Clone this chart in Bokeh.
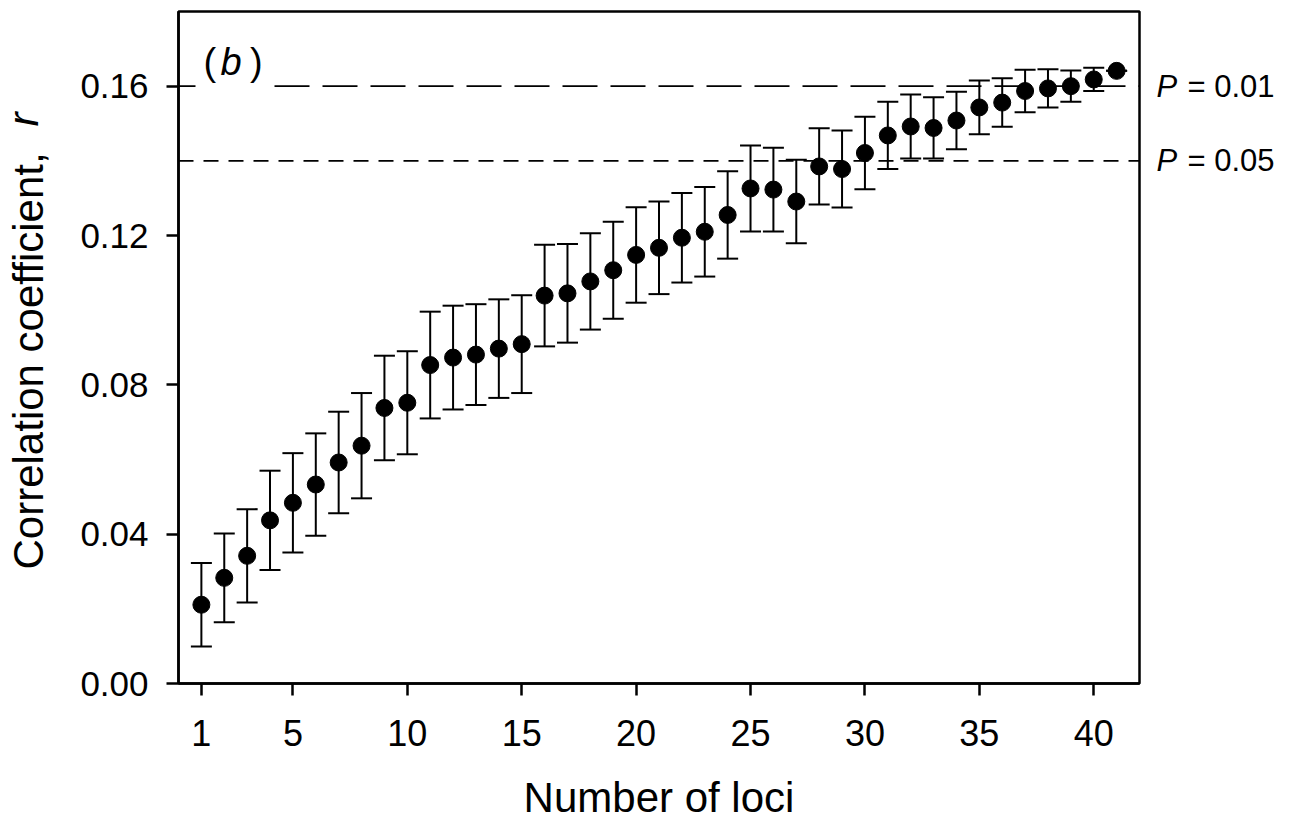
from bokeh.plotting import figure
from bokeh.models import (ColumnDataSource, Whisker, TeeHead, Span, Label, FixedTicker,
                          PrintfTickFormatter, LinearAxis, Title)
from bokeh.embed import file_html
from bokeh.resources import INLINE

# ---- data ----
n_loci = list(range(1, 42))
r_mean = [0.0211, 0.0283, 0.0342, 0.0437, 0.0484, 0.0533, 0.0592, 0.0637, 0.0738, 0.0752,
          0.0853, 0.0873, 0.0881, 0.0897, 0.0909, 0.1039, 0.1045, 0.1077, 0.1107, 0.1148,
          0.1167, 0.1194, 0.1210, 0.1255, 0.1326, 0.1323, 0.1291, 0.1385, 0.1378, 0.1421,
          0.1468, 0.1492, 0.1488, 0.1508, 0.1543, 0.1556, 0.1587, 0.1594, 0.1600, 0.1618,
          0.1641]
r_err = [0.0112, 0.0119, 0.0125, 0.0133, 0.0133, 0.0137, 0.0136, 0.0141, 0.0140, 0.0138,
         0.0143, 0.0139, 0.0135, 0.0132, 0.0131, 0.0136, 0.0132, 0.0129, 0.0130, 0.0128,
         0.0124, 0.0120, 0.0120, 0.0117, 0.0115, 0.0112, 0.0112, 0.0102, 0.0103, 0.0097,
         0.0090, 0.0086, 0.0082, 0.0077, 0.0072, 0.0065, 0.0057, 0.0051, 0.0042, 0.0031,
         0.0000]
x_ticks = [1, 5, 10, 15, 20, 25, 30, 35, 40]
y_ticks = [0.0, 0.04, 0.08, 0.12, 0.16]
sig_levels = [0.16, 0.14]
sig_names = ["0.01", "0.05"]

FONT = "Liberation Sans"

src = ColumnDataSource(data=dict(
    x=n_loci, y=r_mean,
    upper=[m + e for m, e in zip(r_mean, r_err)],
    lower=[m - e for m, e in zip(r_mean, r_err)],
))

p = figure(width=1293, height=826, x_range=(0, 42), y_range=(0, 0.18),
           output_backend="svg", toolbar_location=None,
           min_border_left=178, min_border_right=154, min_border_top=11, min_border_bottom=143)
p.xgrid.visible = False
p.ygrid.visible = False
p.outline_line_color = "black"
p.outline_line_width = 2.5
p.background_fill_color = "white"
p.border_fill_color = "white"

xax = p.xaxis[0]
yax = p.yaxis[0]
for ax in (xax, yax):
    ax.axis_line_width = 2.5
    ax.axis_line_color = "black"
    ax.major_tick_line_width = 2.5
    ax.major_tick_line_color = "black"
    ax.major_tick_out = 12
    ax.major_tick_in = 0
    ax.minor_tick_out = 0
    ax.minor_tick_in = 0
    ax.major_label_text_font = FONT
    ax.major_label_text_color = "black"

xax.ticker = FixedTicker(ticks=x_ticks)
xax.major_label_text_font_size = "36px"
xax.major_label_standoff = 24
xax.axis_label = "Number of loci"
xax.axis_label_text_font = FONT
xax.axis_label_text_font_size = "42px"
xax.axis_label_text_font_style = "normal"
xax.axis_label_text_color = "black"
xax.axis_label_standoff = 25

yax.ticker = FixedTicker(ticks=y_ticks)
yax.formatter = PrintfTickFormatter(format="%.2f")
yax.major_label_text_font_size = "35px"
yax.major_label_standoff = 18

# y-axis title: regular part + italic r, as side-panel titles (zero-width columns)
spacer = Title(text=" ", text_font_size="10px", standoff=34)
yt_main = Title(text="Correlation coefficient,", align="left", vertical_align="middle",
                offset=114, standoff=-44, text_font=FONT, text_font_size="42px",
                text_font_style="normal", text_color="black")
yt_r = Title(text="r", align="left", vertical_align="middle",
             offset=557, standoff=-44, text_font=FONT, text_font_size="42px",
             text_font_style="italic", text_color="black")
p.add_layout(spacer, "left")
p.add_layout(yt_main, "left")
p.add_layout(yt_r, "left")

# P labels as two label-only axes on the right
def label_axis(overrides, style, standoff):
    ax = LinearAxis(ticker=FixedTicker(ticks=sig_levels), major_label_overrides=overrides)
    ax.axis_line_color = None
    ax.major_tick_line_color = None
    ax.minor_tick_line_color = None
    ax.major_tick_out = 0
    ax.major_tick_in = 0
    ax.minor_tick_out = 0
    ax.minor_tick_in = 0
    ax.major_label_standoff = standoff
    ax.major_label_text_font = FONT
    ax.major_label_text_font_size = "31px"
    ax.major_label_text_font_style = style
    ax.major_label_text_color = "black"
    return ax

p.add_layout(label_axis({lv: "P" for lv in sig_levels}, "italic", 17), "right")
p.add_layout(label_axis({lv: "= " + nm for lv, nm in zip(sig_levels, sig_names)}, "normal", 7), "right")

# significance thresholds
p.add_layout(Span(location=sig_levels[0], dimension="width", line_color="black",
                  line_width=1.7, line_dash="35 13", level="underlay"))
p.add_layout(Span(location=sig_levels[1], dimension="width", line_color="black",
                  line_width=1.7, line_dash="15 10", level="underlay"))

# error bars and points
p.add_layout(Whisker(source=src, base="x", upper="upper", lower="lower",
                     line_color="black", line_width=2,
                     upper_head=TeeHead(size=21, line_color="black", line_width=2),
                     lower_head=TeeHead(size=21, line_color="black", line_width=2),
                     level="glyph"))
p.scatter("x", "y", source=src, size=17, marker="circle",
          fill_color="black", line_color="black")

# panel label (b): placed from reference pixel positions
def dx(px):
    return (px - 178) / 22.88

def dy(py):
    return (683 - py) / 3736.0

# italic b first, with a white box that interrupts the dashed line behind the label
p.add_layout(Label(x=dx(220 - 25), y=dy(61), text="b", text_align="left",
                   text_baseline="middle", text_font=FONT, text_font_style="italic",
                   text_font_size="38px", text_color="black",
                   background_fill_color="white", padding=25))
for txt, px in (("(", 203), (")", 249.5)):
    p.add_layout(Label(x=dx(px), y=dy(61), text=txt, text_align="left",
                       text_baseline="middle", text_font=FONT, text_font_style="normal",
                       text_font_size="38px", text_color="black"))

open("out.html", "w").write(file_html(p, INLINE))
